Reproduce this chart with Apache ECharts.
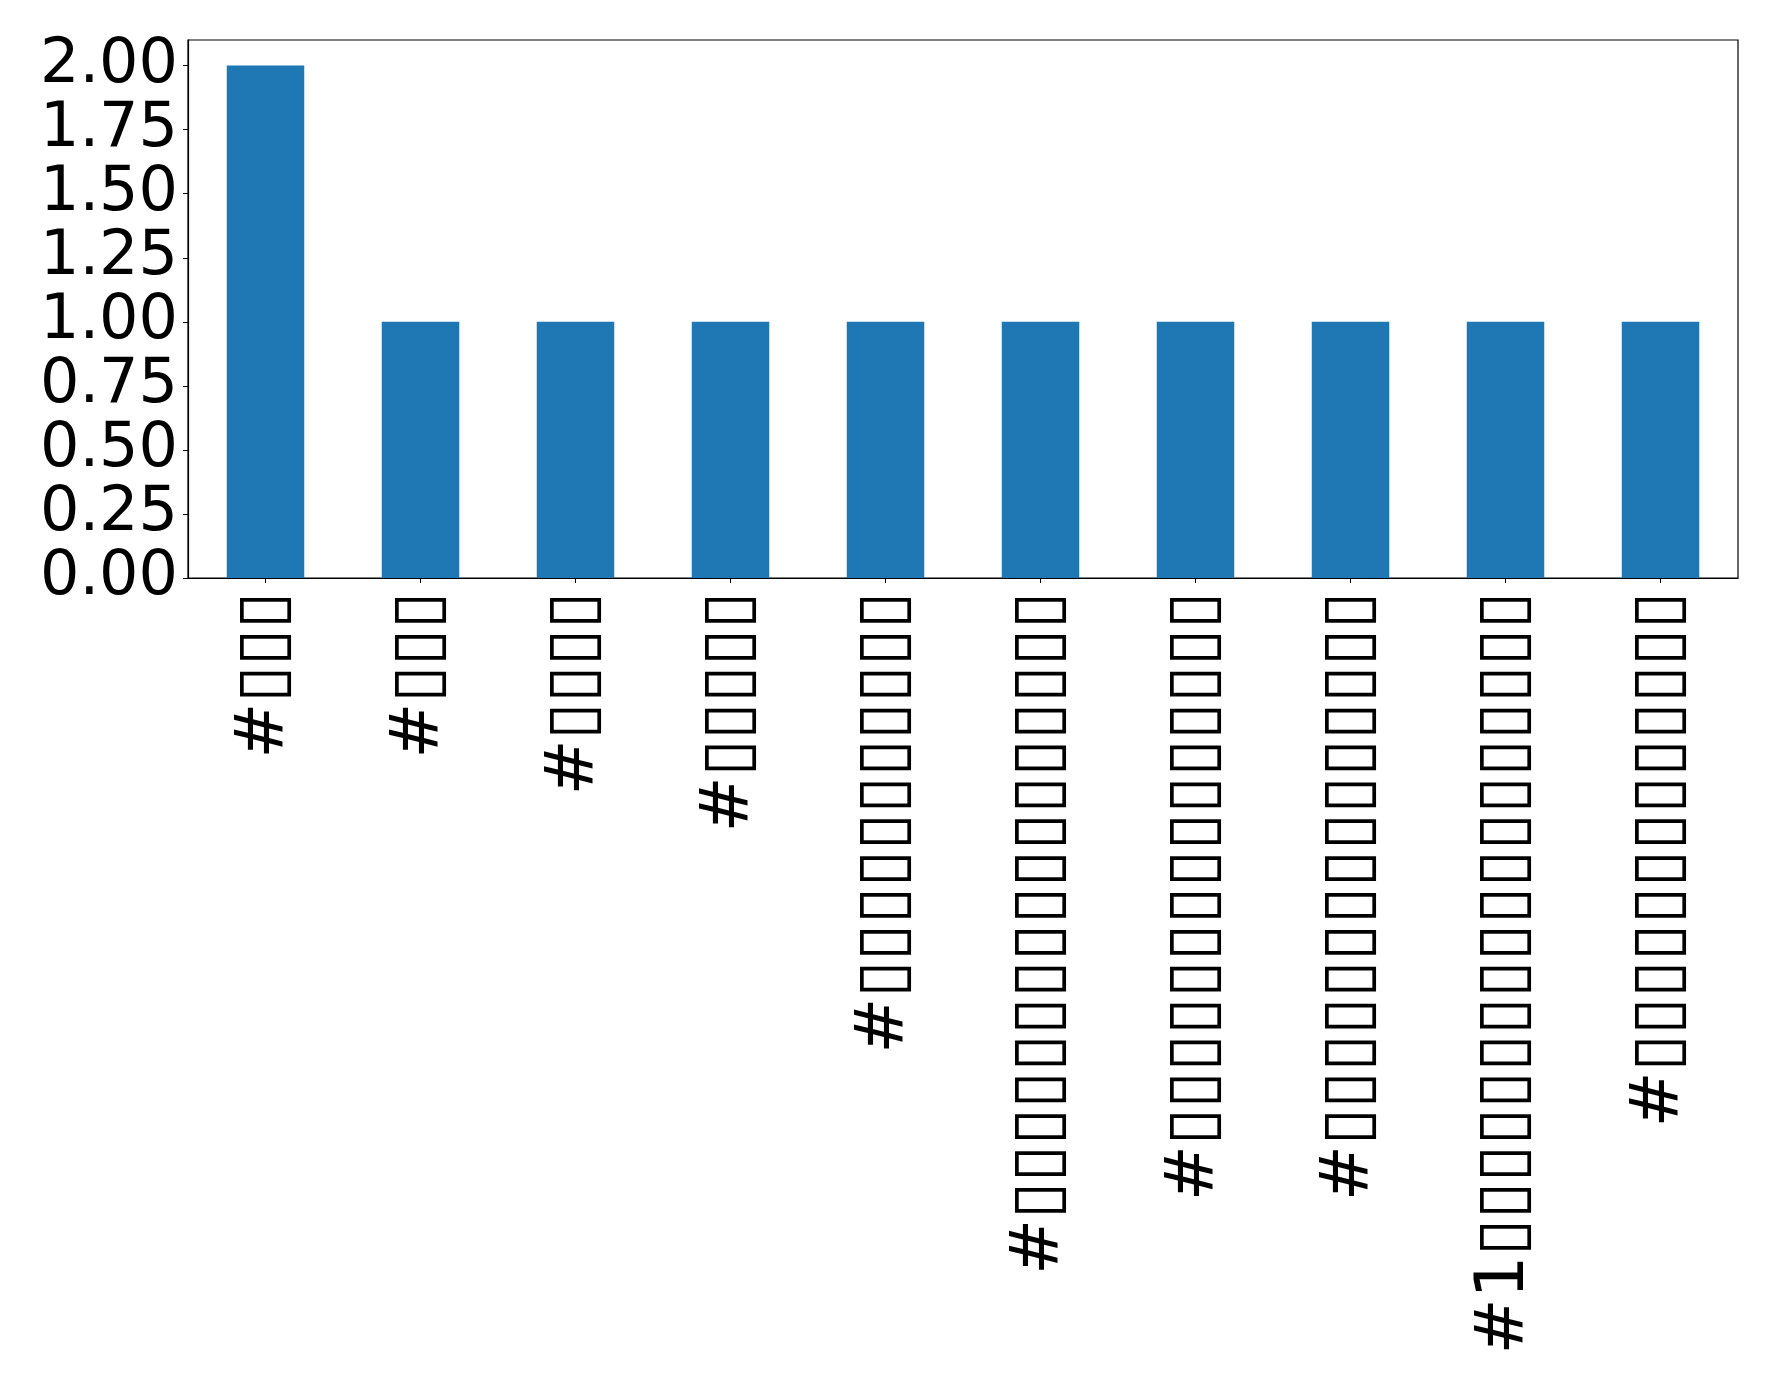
<!DOCTYPE html>
<html>
<head>
<meta charset="utf-8">
<script src="https://cdn.jsdelivr.net/npm/echarts@6/dist/echarts.min.js"></script>
<style>
html,body{margin:0;padding:0;background:#fff;}
#chart{width:1778px;height:1395px;}
</style>
</head>
<body>
<div id="chart"></div>
<script>
const categories = [
  "#▯▯▯",
  "#▯▯▯",
  "#▯▯▯▯",
  "#▯▯▯▯▯",
  "#▯▯▯▯▯▯▯▯▯▯▯",
  "#▯▯▯▯▯▯▯▯▯▯▯▯▯▯▯▯▯",
  "#▯▯▯▯▯▯▯▯▯▯▯▯▯▯▯",
  "#▯▯▯▯▯▯▯▯▯▯▯▯▯▯▯",
  "#1▯▯▯▯▯▯▯▯▯▯▯▯▯▯▯▯▯▯",
  "#▯▯▯▯▯▯▯▯▯▯▯▯▯"
];
const values = [2, 1, 1, 1, 1, 1, 1, 1, 1, 1];
const yTickLabels = ["0.00","0.25","0.50","0.75","1.00","1.25","1.50","1.75","2.00"];

const chart = echarts.init(document.getElementById('chart'));
chart.setOption({
  animation: false,
  backgroundColor: '#ffffff',
  grid: {
    left: 188, right: 40, top: 40, bottom: 817,
    show: true, borderColor: '#000000', borderWidth: 1.2, backgroundColor: 'transparent'
  },
  xAxis: {
    type: 'category',
    data: categories,
    boundaryGap: true,
    axisLine: { show: true, lineStyle: { color: '#000', width: 1.2 } },
    axisTick: { show: true, alignWithLabel: true, length: 5, lineStyle: { color: '#000' } },
    axisLabel: {
      rotate: 90, interval: 0, margin: 14,
      fontFamily: 'DejaVu Sans', fontSize: 67, color: '#000'
    },
    splitLine: { show: false }
  },
  yAxis: {
    type: 'value',
    min: 0, max: 2.1, interval: 0.25,
    axisLine: { show: true, lineStyle: { color: '#000', width: 1.2 } },
    axisTick: { show: true, length: 5, lineStyle: { color: '#000' } },
    axisLabel: {
      margin: 10, fontFamily: 'DejaVu Sans', fontSize: 62, color: '#000',
      showMaxLabel: false,
      formatter: function (v) {
        const i = Math.round(v / 0.25);
        return (Math.abs(v - i * 0.25) < 1e-6 && i < yTickLabels.length) ? yTickLabels[i] : '';
      }
    },
    splitLine: { show: false }
  },
  series: [{
    type: 'bar',
    data: values,
    barWidth: '50%',
    itemStyle: { color: '#1f77b4' }
  }]
});
</script>
</body>
</html>
